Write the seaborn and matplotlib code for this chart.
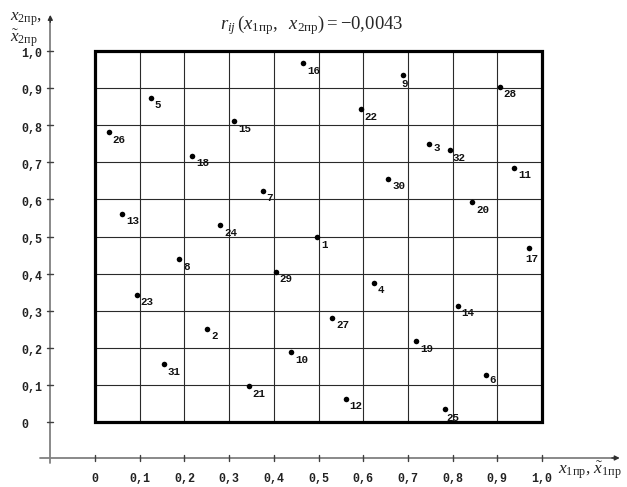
import matplotlib
matplotlib.use('Agg')
import matplotlib.pyplot as plt
from matplotlib.patches import Rectangle
import seaborn as sns
import pandas as pd

# ---------------- data ----------------
point_ids = list(range(1, 33))
x_values = [0.497, 0.251, 0.748, 0.624, 0.125, 0.874, 0.375, 0.188,
            0.688, 0.439, 0.938, 0.561, 0.061, 0.811, 0.312, 0.466,
            0.970, 0.217, 0.718, 0.844, 0.344, 0.594, 0.093, 0.280,
            0.782, 0.031, 0.531, 0.905, 0.404, 0.656, 0.154, 0.795]
y_values = [0.499, 0.252, 0.749, 0.376, 0.874, 0.127, 0.624, 0.439,
            0.936, 0.189, 0.686, 0.063, 0.562, 0.314, 0.811, 0.967,
            0.468, 0.718, 0.218, 0.593, 0.096, 0.844, 0.343, 0.531,
            0.034, 0.781, 0.281, 0.904, 0.405, 0.656, 0.156, 0.732]
tick_values = [0.0, 0.1, 0.2, 0.3, 0.4, 0.5, 0.6, 0.7, 0.8, 0.9, 1.0]
x_tick_labels = ['0', '0,1', '0,2', '0,3', '0,4', '0,5', '0,6', '0,7', '0,8', '0,9', '1,0']
y_tick_labels = ['0', '0,1', '0,2', '0,3', '0,4', '0,5', '0,6', '0,7', '0,8', '0,9', '1,0']
title_text = r'$r_{ij}\,(x_{1\mathrm{пр}},\ \ x_{2\mathrm{пр}}) = -0{,}0043$'
x_label_text = r'$x_{1\mathrm{пр}},\,\tilde{x}_{1\mathrm{пр}}$'
y_label_line1 = r'$x_{2\mathrm{пр}},$'
y_label_line2 = r'$\tilde{x}_{2\mathrm{пр}}$'

df = pd.DataFrame({'id': point_ids, 'x': x_values, 'y': y_values})

# ---------------- style ----------------
sns.set_style('white')
plt.rcParams['font.family'] = ['Liberation Mono', 'DejaVu Sans']
plt.rcParams['mathtext.fontset'] = 'custom'
plt.rcParams['mathtext.rm'] = 'Liberation Serif'
plt.rcParams['mathtext.it'] = 'Liberation Serif:italic'
plt.rcParams['mathtext.bf'] = 'Liberation Serif:bold'

fig = plt.figure(figsize=(6.27, 4.87), dpi=100)
ax = fig.add_axes([0, 0, 1, 1])
ax.set_xlim(-0.2125, 1.190)
ax.set_ylim(-0.1752, 1.1375)
ax.axis('off')

# grid inside box
for v in tick_values[1:-1]:
    ax.plot([v, v], [0, 1], color='#2a2a2a', lw=0.8, zorder=1)
    ax.plot([0, 1], [v, v], color='#2a2a2a', lw=0.8, zorder=1)
ax.add_patch(Rectangle((0, 0), 1, 1, fill=False, lw=2.3, ec='black', zorder=2))

# outer axes
ax_x0 = -0.1
ax_y0 = -0.097
axis_col = '#808080'
ax.plot([ax_x0, ax_x0], [-0.11, 1.09], color=axis_col, lw=1.3, zorder=1)
ax.annotate('', xy=(ax_x0, 1.105), xytext=(ax_x0, 1.07),
            arrowprops=dict(arrowstyle='-|>', color='#303030', lw=1.0, mutation_scale=7))
ax.plot([-0.123, 1.165], [ax_y0, ax_y0], color=axis_col, lw=1.3, zorder=1)
ax.annotate('', xy=(1.18, ax_y0), xytext=(1.15, ax_y0),
            arrowprops=dict(arrowstyle='-|>', color='#303030', lw=1.0, mutation_scale=7))
for v, lab in zip(tick_values, x_tick_labels):
    ax.plot([v, v], [ax_y0 - 0.008, ax_y0 + 0.008], color='#404040', lw=1.0)
    ax.text(v, -0.1536, lab, ha='center', va='center', fontsize=8.4,
            fontweight='bold', color='#222222')
for v, lab in zip(tick_values, y_tick_labels):
    ax.plot([ax_x0 - 0.0067, ax_x0 + 0.0067], [v, v], color='#404040', lw=1.0)
    ax.text(-0.1655, v - 0.009, lab, ha='left', va='center', fontsize=8.4,
            fontweight='bold', color='#222222')

# points
sns.scatterplot(data=df, x='x', y='y', color='black', s=16, linewidth=0,
                ax=ax, legend=False, zorder=5)

# point labels
label_offsets = {9: (1.5, -6.5, 'center'), 17: (2.0, -7.5, 'center'),
                 3: (3.0, -2.5, 'left'), 6: (2.5, -4.0, 'left'),
                 32: (1.5, -5.5, 'left'), 25: (1.5, -6.5, 'left')}
for pid, px, py in zip(df['id'], df['x'], df['y']):
    dx, dy, ha = label_offsets.get(pid, (2.8, -5.5, 'left'))
    ax.annotate(str(pid), (px, py), xytext=(dx, dy), textcoords='offset points',
                ha=ha, va='center', fontsize=7.8, fontweight='bold', color='#111111',
                zorder=6)

# titles / axis labels
ax.text(0.4855, 1.070, title_text, ha='center', va='center', fontsize=13.5)
ax.text(1.036, -0.129, x_label_text, ha='left', va='center', fontsize=12.5)
ax.text(-0.19, 1.086, y_label_line1, ha='left', va='center', fontsize=12.3)
ax.text(-0.19, 1.036, y_label_line2, ha='left', va='center', fontsize=12.3)

fig.savefig('out.png', dpi=100)
